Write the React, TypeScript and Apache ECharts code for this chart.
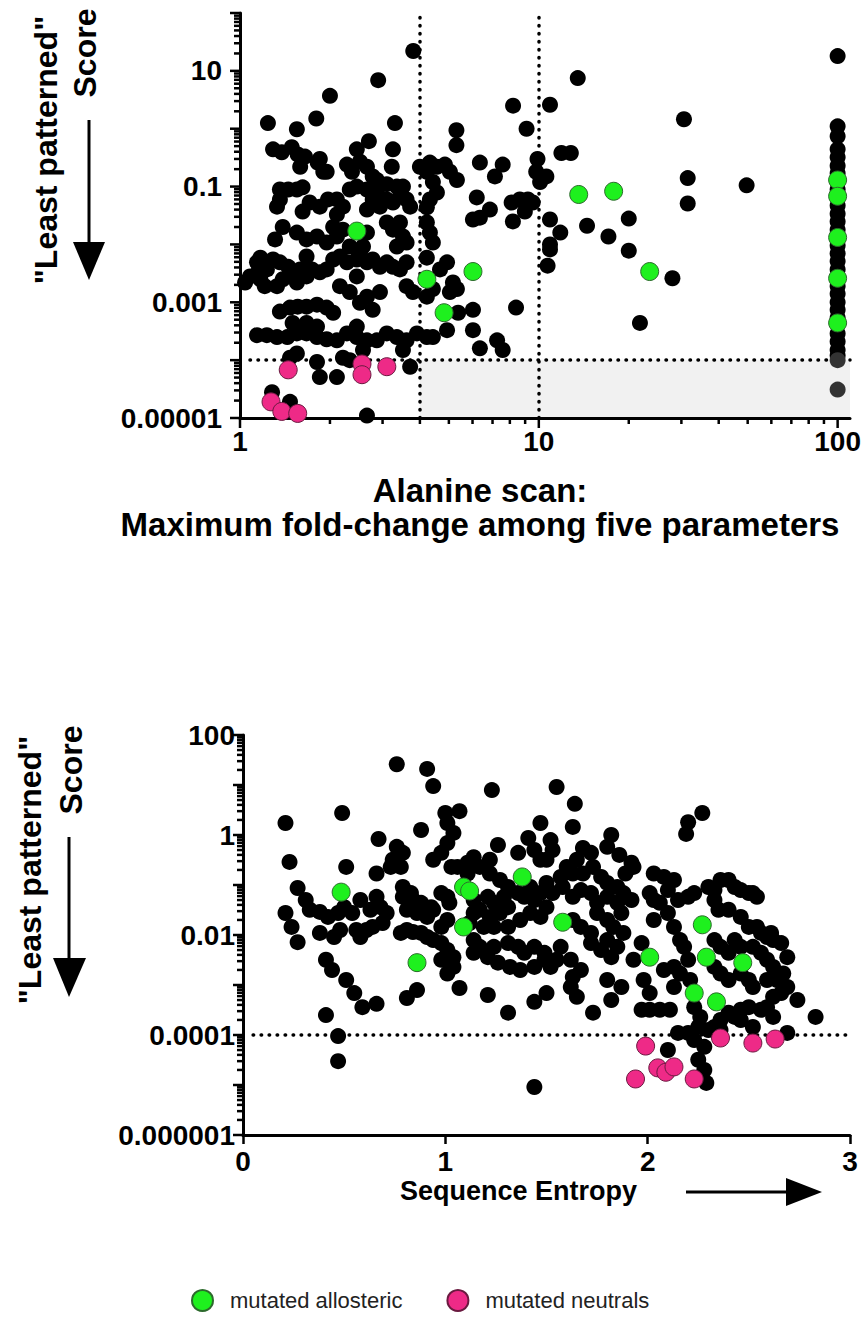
import React, { useEffect, useRef } from "react";
import * as echarts from "echarts";

const FONT = '"Liberation Sans", Arial, sans-serif';

// ---------------- Top panel: [Alanine scan max fold-change, "least patterned" score]
const topOther: number[][] = [
  [3.8, 22], [2.9, 6.9], [2.0, 3.7], [1.8, 1.5], [1.24, 1.25], [1.55, 0.98], [3.3, 1.25], [5.3, 0.94], [5.3, 0.52],
  [8.2, 2.5], [9.1, 1.0], [10.9, 2.6], [2.7, 0.61], [13.5, 7.5], [30.6, 1.46], [11.9, 0.38], [12.8, 0.38], [9.9, 0.3],
  [9.8, 0.18], [10.6, 0.15], [10.1, 0.12], [31.5, 0.14], [49.6, 0.105], [31.5, 0.051],
  [1.29, 0.44], [1.38, 0.39], [1.49, 0.48], [1.56, 0.36], [1.65, 0.33], [1.59, 0.22], [1.85, 0.3], [1.9, 0.18],
  [2.28, 0.24], [2.37, 0.18], [2.46, 0.44], [2.52, 0.27], [2.66, 0.22], [2.78, 0.15], [2.87, 0.13], [3.25, 0.44],
  [3.22, 0.22], [4.0, 0.22], [4.32, 0.26], [4.56, 0.22], [4.85, 0.24], [5.04, 0.18], [5.32, 0.13], [6.35, 0.26],
  [7.13, 0.15], [7.57, 0.24], [4.22, 0.18], [4.42, 0.12], [1.82, 0.26], [1.95, 0.18],
  [1.36, 0.089], [1.45, 0.089], [1.55, 0.089], [1.62, 0.097], [1.36, 0.06], [1.33, 0.045], [1.71, 0.053], [1.85, 0.045],
  [1.97, 0.06], [2.11, 0.06], [2.21, 0.045], [2.11, 0.033], [1.62, 0.037], [2.33, 0.089], [2.46, 0.1], [2.66, 0.089],
  [2.87, 0.083], [3.1, 0.11], [3.35, 0.1], [3.51, 0.1], [2.78, 0.06], [2.66, 0.04], [2.94, 0.045], [3.1, 0.06],
  [3.25, 0.053], [3.43, 0.068], [3.61, 0.06], [3.71, 0.045], [4.32, 0.06], [4.22, 0.044], [4.56, 0.079], [6.2, 0.065],
  [6.86, 0.04], [6.35, 0.029], [6.02, 0.027], [8.11, 0.053], [8.64, 0.06], [9.19, 0.06], [9.54, 0.053], [8.98, 0.037],
  [8.19, 0.025], [10.9, 0.027], [11.8, 0.016], [10.9, 0.01], [10.9, 0.0082], [10.7, 0.0043], [14.5, 0.021],
  [17.1, 0.0137], [20, 0.028], [20, 0.0078], [28, 0.0026], [21.8, 0.00044], [8.39, 0.00081],
  [3.1, 0.024], [3.25, 0.018], [3.43, 0.024], [3.51, 0.0137], [3.61, 0.0108], [3.35, 0.0092], [1.55, 0.016],
  [1.67, 0.0122], [1.81, 0.0137], [1.95, 0.0108], [2.11, 0.0137], [2.05, 0.02], [2.21, 0.018], [2.66, 0.016],
  [2.58, 0.0092], [2.33, 0.0092], [4.22, 0.024], [4.32, 0.016], [4.42, 0.0108], [1.39, 0.02], [1.31, 0.0122],
  [1.17, 0.0059], [1.29, 0.0055], [1.14, 0.0049], [1.08, 0.0028], [1.15, 0.0033], [1.23, 0.0037], [1.21, 0.0019],
  [1.36, 0.0049], [1.45, 0.0041], [1.5, 0.0033], [1.59, 0.0037], [1.67, 0.0028], [1.74, 0.0037], [1.85, 0.0033],
  [1.95, 0.0037], [2.05, 0.0055], [2.16, 0.0062], [2.28, 0.0049], [2.46, 0.0055], [2.66, 0.0049], [2.78, 0.0055],
  [2.94, 0.0041], [3.1, 0.0049], [3.25, 0.0041], [3.43, 0.0037], [3.61, 0.0049], [2.52, 0.0072], [1.67, 0.0062],
  [4.22, 0.0059], [4.67, 0.0037], [4.93, 0.0049], [5.16, 0.0022], [5.32, 0.0017], [5.04, 0.0015],
  [1.17, 0.0025], [1.33, 0.0019],
  [2.16, 0.0019], [2.33, 0.0015], [2.46, 0.0028], [2.66, 0.00125], [2.94, 0.0015], [3.61, 0.0019], [3.79, 0.0015],
  [4.22, 0.00125], [4.42, 0.0017], [1.39, 0.0025], [1.55, 0.0022], [1.04, 0.0022],
  [2.52, 0.00098], [2.78, 0.00074], [1.36, 0.00069], [1.47, 0.00081], [1.56, 0.00084], [1.67, 0.00084],
  [1.81, 0.00091], [1.95, 0.00081], [2.05, 0.00066], [1.5, 0.00044], [1.67, 0.00044], [1.81, 0.00038],
  [6.02, 0.00074], [5.37, 0.00066],
  [1.14, 0.00027], [1.23, 0.00027], [1.33, 0.00025], [1.44, 0.00025], [1.55, 0.00029], [1.67, 0.00029],
  [1.81, 0.00025], [1.95, 0.00023], [2.11, 0.00022], [2.28, 0.00029], [2.46, 0.00025], [2.66, 0.00022],
  [2.87, 0.00022], [3.1, 0.00029], [3.35, 0.00025], [3.61, 0.00022], [3.91, 0.00029], [4.22, 0.00025],
  [4.42, 0.00025], [4.93, 0.00033], [6.02, 0.00033], [6.35, 0.00016], [7.25, 0.00022], [7.57, 0.00015],
  [2.46, 0.00038], [1.55, 0.00013], [1.81, 0.000093], [1.85, 0.000051], [2.11, 0.000051], [2.21, 0.00011],
  [2.33, 0.0001], [2.58, 0.00015], [3.51, 0.00015], [3.71, 0.000077], [1.28, 0.000028], [1.47, 0.000019],
  [2.66, 0.000011], [1.47, 0.00011],
];
const topOtherAt100: number[][] = [
  [100, 18], [100, 1.1], [100, 0.74], [100, 0.44], [100, 0.32], [100, 0.23], [100, 0.17], [100, 0.12], [100, 0.089],
  [100, 0.065], [100, 0.047], [100, 0.034], [100, 0.025], [100, 0.018], [100, 0.0096], [100, 0.007], [100, 0.0051],
  [100, 0.0037], [100, 0.0019], [100, 0.0014], [100, 0.001], [100, 0.00074], [100, 0.00054], [100, 0.00029],
  [100, 0.00021], [100, 0.00015], [100, 0.00012],
];
const topOtherShaded: number[][] = [[100, 0.0001], [100, 0.000031]];
const topAllosteric: number[][] = [
  [2.46, 0.017], [4.22, 0.0025], [6.02, 0.0034], [4.82, 0.00066], [13.6, 0.073], [17.8, 0.083], [23.5, 0.0034],
  [100, 0.13], [100, 0.068], [100, 0.0132], [100, 0.0026], [100, 0.00044],
];
const topNeutrals: number[][] = [
  [1.45, 0.000068], [2.56, 0.000086], [2.56, 0.000056], [3.1, 0.000077], [1.27, 0.000019], [1.38, 0.000013],
  [1.56, 0.000012],
];

// ---------------- Bottom panel: [sequence entropy, "least patterned" score]
const bottomOther: number[][] = [
  [0.76, 26], [0.91, 21], [0.94, 9.5], [1.23, 7.9], [1.55, 9.1], [0.49, 2.75], [0.21, 1.74], [0.88, 1.26], [1.0, 2.75],
  [1.07, 3.0], [1.01, 1.74], [1.04, 1.1], [1.01, 0.69], [0.98, 0.44], [0.67, 0.83], [1.47, 1.74], [0.23, 0.29],
  [0.51, 0.23], [0.76, 0.58], [0.79, 0.44], [0.74, 0.32], [0.73, 0.23], [0.78, 0.23], [0.66, 0.17], [0.94, 0.32],
  [1.26, 0.63], [1.22, 0.32], [1.41, 0.87], [1.44, 0.5], [1.36, 0.44], [1.47, 0.32], [1.06, 0.23], [1.11, 0.28],
  [1.14, 0.36],
  [0.27, 0.087], [0.31, 0.05], [0.33, 0.032], [0.38, 0.029], [0.42, 0.023], [0.47, 0.0275], [0.5, 0.036],
  [0.54, 0.0275], [0.58, 0.05], [0.61, 0.0126], [0.58, 0.0091], [0.56, 0.0126], [0.48, 0.0126], [0.45, 0.0091],
  [0.38, 0.011], [0.21, 0.0275], [0.24, 0.0145], [0.27, 0.0072], [0.66, 0.058], [0.68, 0.036], [0.71, 0.0275],
  [0.69, 0.0174], [0.64, 0.0145], [0.63, 0.032],
  [0.79, 0.091], [0.83, 0.069], [0.79, 0.058], [0.84, 0.05], [0.88, 0.044], [0.81, 0.032], [0.86, 0.0275],
  [0.91, 0.023], [0.94, 0.032], [0.98, 0.069], [0.78, 0.011], [0.81, 0.0126], [0.84, 0.0115], [0.88, 0.011],
  [0.91, 0.0091], [0.94, 0.0079], [0.98, 0.0069], [1.01, 0.005], [0.98, 0.0032], [1.04, 0.0023], [1.01, 0.0017],
  [1.04, 0.0036], [1.01, 0.058], [0.93, 0.036], [0.98, 0.0145], [1.01, 0.02], [1.02, 0.044],
  [1.14, 0.05], [1.21, 0.058], [1.24, 0.044], [1.29, 0.058], [1.31, 0.036], [1.27, 0.0275], [1.22, 0.023],
  [1.17, 0.032], [1.14, 0.0275], [1.12, 0.0174], [1.19, 0.0145], [1.24, 0.0145], [1.31, 0.0145], [1.37, 0.02],
  [1.42, 0.0275], [1.47, 0.023], [1.5, 0.036], [1.44, 0.05], [1.39, 0.058],
  [1.14, 0.0079], [1.17, 0.0058], [1.24, 0.0058], [1.31, 0.0069], [1.36, 0.0058], [1.39, 0.0044], [1.44, 0.0058],
  [1.49, 0.0044], [1.14, 0.0044], [1.21, 0.0036], [1.26, 0.0028], [1.32, 0.0023], [1.37, 0.002], [1.44, 0.0023],
  [1.49, 0.0032], [1.52, 0.0023], [1.07, 0.00087], [1.21, 0.00063], [1.31, 0.00028], [1.44, 0.00046], [1.5, 0.00069],
  [0.41, 0.0032], [0.44, 0.002], [0.51, 0.00126], [0.55, 0.00069], [0.59, 0.00036], [0.66, 0.00042], [0.81, 0.00055],
  [0.86, 0.00079], [0.41, 0.00025], [0.47, 0.000095], [0.47, 0.00003], [1.44, 0.0000091],
  [1.03, 0.23], [1.11, 0.17], [1.17, 0.23], [1.22, 0.17], [1.27, 0.126], [1.31, 0.091], [1.36, 0.069], [1.42, 0.091],
  [1.47, 0.069], [1.5, 0.11], [1.52, 0.79],
  [1.64, 4.2], [1.63, 1.45], [2.27, 2.75], [2.2, 1.8], [2.19, 1.05], [1.82, 1.0], [1.8, 0.58], [1.86, 0.4], [1.92, 0.28],
  [1.93, 0.23], [1.89, 0.17], [1.68, 0.55], [1.72, 0.44], [1.65, 0.32], [1.6, 0.23], [1.53, 0.5], [1.57, 0.145],
  [1.5, 0.32], [1.63, 0.17], [1.68, 0.17], [1.73, 0.23], [1.77, 0.145], [1.8, 0.11], [1.85, 0.091], [1.88, 0.069],
  [1.92, 0.05], [1.85, 0.044], [1.8, 0.058], [1.75, 0.044], [1.72, 0.069], [1.67, 0.079], [1.63, 0.058],
  [1.58, 0.091], [1.53, 0.069],
  [1.75, 0.0275], [1.8, 0.02], [1.83, 0.0145], [1.87, 0.0275], [1.88, 0.011], [1.8, 0.0079], [1.77, 0.005],
  [1.82, 0.0036], [1.85, 0.0058], [1.72, 0.0069], [1.67, 0.0145], [1.63, 0.02], [1.72, 0.011], [1.57, 0.0058],
  [1.55, 0.0032], [1.62, 0.0032], [1.67, 0.002], [1.63, 0.00145], [1.62, 0.00091], [1.65, 0.00058], [1.8, 0.00126],
  [1.87, 0.00091], [1.82, 0.0005], [1.73, 0.00028],
  [2.03, 0.17], [2.08, 0.145], [2.13, 0.126], [2.1, 0.079], [2.01, 0.069], [2.03, 0.05], [2.06, 0.044], [2.15, 0.05],
  [2.2, 0.058], [2.23, 0.069], [2.03, 0.02], [2.13, 0.0145], [2.16, 0.0079], [2.1, 0.0275], [1.97, 0.0069],
  [1.93, 0.0032], [1.98, 0.00126], [2.01, 0.00069], [1.97, 0.00032], [2.01, 0.00032], [2.06, 0.00032],
  [2.11, 0.00032], [2.08, 0.002], [2.13, 0.0023], [2.16, 0.0017], [2.2, 0.0032], [2.18, 0.0058], [2.21, 0.00126],
  [2.13, 0.00091], [2.23, 0.00036], [2.26, 0.00023], [2.25, 0.000145], [2.3, 0.000126], [2.23, 0.000079],
  [2.28, 0.000058], [2.25, 0.000032], [2.28, 0.00002], [2.29, 0.000011], [2.2, 0.00011], [2.15, 0.00011],
  [2.1, 0.00005],
  [2.3, 0.091], [2.33, 0.079], [2.36, 0.126], [2.4, 0.126], [2.43, 0.091], [2.46, 0.079], [2.5, 0.069], [2.52, 0.069],
  [2.54, 0.058], [2.33, 0.05], [2.35, 0.032], [2.4, 0.032], [2.46, 0.023], [2.5, 0.0145], [2.54, 0.0145],
  [2.56, 0.011], [2.59, 0.0091], [2.62, 0.0079], [2.66, 0.0069], [2.33, 0.0079], [2.36, 0.0058], [2.4, 0.0044],
  [2.43, 0.0079], [2.46, 0.0058], [2.52, 0.0058], [2.56, 0.0044], [2.59, 0.0032], [2.62, 0.0023], [2.33, 0.0023],
  [2.36, 0.0017], [2.4, 0.00126], [2.46, 0.0017], [2.5, 0.00126], [2.52, 0.00091], [2.59, 0.00126], [2.64, 0.00126],
  [2.67, 0.0017], [2.69, 0.00091], [2.66, 0.00069], [2.62, 0.00058], [2.59, 0.00036], [2.56, 0.00032],
  [2.5, 0.00036], [2.46, 0.00032], [2.43, 0.00023], [2.4, 0.00028], [2.36, 0.0002], [2.33, 0.000145],
  [2.36, 0.000126], [2.46, 0.0002], [2.52, 0.000145], [2.62, 0.00023], [2.69, 0.00011], [2.74, 0.0005],
  [2.83, 0.00023], [2.61, 0.011], [2.69, 0.0036],
];
const bottomAllosteric: number[][] = [
  [0.485, 0.072], [1.09, 0.091], [1.12, 0.076], [1.38, 0.145], [1.09, 0.0145], [0.86, 0.0028], [1.58, 0.018],
  [2.27, 0.016], [2.01, 0.0036], [2.29, 0.0036], [2.47, 0.0028], [2.23, 0.00069], [2.34, 0.00046],
];
const bottomNeutrals: number[][] = [
  [1.99, 0.00006], [2.36, 0.000087], [2.52, 0.000069], [2.63, 0.000083], [1.94, 0.0000132], [2.05, 0.000022],
  [2.09, 0.000018], [2.13, 0.000023], [2.23, 0.0000132],
];

// ---------------- axes / reference values
const topXRange = [1, 110];
const topYRange = [0.00001, 100];
const bottomXRange = [0, 3];
const bottomYRange = [0.000001, 100];
const topXLabels: Record<number, string> = { 0: "1", 1: "10", 2: "100" };
const topYLabels: Record<number, string> = { 1: "10", [-1]: "0.1", [-3]: "0.001", [-5]: "0.00001" };
const bottomYLabels: Record<number, string> = { 2: "100", 0: "1", [-2]: "0.01", [-4]: "0.0001", [-6]: "0.000001" };
const topRefX = [4, 10];
const refY = 0.0001;
const minorMultipliers = [2, 3, 4, 5, 6, 7, 8, 9];
const topXDecades = [1, 10, 100];
const topYDecades = [0.00001, 0.0001, 0.001, 0.01, 0.1, 1, 10, 100];
const bottomYDecades = [0.000001, 0.00001, 0.0001, 0.001, 0.01, 0.1, 1, 10, 100];

const logLabel = (map: Record<number, string>) => (v: number) => {
  const e = Math.log10(v);
  const r = Math.round(e);
  if (Math.abs(e - r) > 1e-6) return "";
  return map[r] ?? "";
};

// tick items: [x, y, kind(0 = x tick, 1 = y tick), length]
function buildTicks(xDecades: number[] | null, yDecades: number[], xMin: number, yMin: number) {
  const out: number[][] = [];
  if (xDecades) {
    xDecades.forEach((d, i) => {
      out.push([d, yMin, 0, 9]);
      if (i < xDecades.length - 1) minorMultipliers.forEach((m) => out.push([d * m, yMin, 0, 5]));
    });
  }
  yDecades.forEach((d, i) => {
    out.push([xMin, d, 1, 9]);
    if (i < yDecades.length - 1) minorMultipliers.forEach((m) => out.push([xMin, d * m, 1, 5]));
  });
  return out;
}

const tickRender = (_p: any, api: any) => {
  const p = api.coord([api.value(0), api.value(1)]);
  const kind = api.value(2);
  const len = api.value(3);
  const shape =
    kind === 0
      ? { x1: p[0], y1: p[1], x2: p[0], y2: p[1] + len + 1 }
      : { x1: p[0] - len - 1, y1: p[1], x2: p[0], y2: p[1] };
  return { type: "line", shape, style: { stroke: "#000", lineWidth: 2.5 } };
};

const GREEN = { color: "#1ef01e", borderColor: "#2d6a2d", borderWidth: 1, opacity: 1 };
const PINK = { color: "#ee2a87", borderColor: "#6a1a40", borderWidth: 1, opacity: 1 };
const BLACK = { color: "#000", opacity: 1 };

const tickLabel = { fontFamily: FONT, fontWeight: "bold" as const, fontSize: 28, color: "#000" };
const axisLine = { show: true, onZero: false, lineStyle: { color: "#000", width: 3 } };
const dotted = { color: "#000", width: 3.5, type: [0.5, 7.5], cap: "round", opacity: 1 };

const textStyle = (font: string, align = "center") => ({
  font, fill: "#000", align, verticalAlign: "middle", textAlign: align, textVerticalAlign: "middle",
});

export default function App() {
  const ref = useRef<HTMLDivElement>(null);
  useEffect(() => {
    if (!ref.current) return;
    const chart = echarts.init(ref.current, undefined, { renderer: "svg" });
    const option: any = {
      animation: false,
      backgroundColor: "#fff",
      grid: [
        { left: 240, top: 13, width: 610, height: 405 },
        { left: 243, top: 735, width: 607, height: 400 },
      ],
      xAxis: [
        {
          gridIndex: 0, type: "log", logBase: 10, min: topXRange[0], max: topXRange[1],
          axisLine, axisTick: { show: false }, splitLine: { show: false },
          axisLabel: { ...tickLabel, margin: 9, formatter: logLabel(topXLabels) },
        },
        {
          gridIndex: 1, type: "value", min: bottomXRange[0], max: bottomXRange[1], interval: 1,
          axisLine, splitLine: { show: false },
          axisTick: { show: true, length: 9, lineStyle: { color: "#000", width: 2.5 } },
          axisLabel: { ...tickLabel, margin: 12 },
        },
      ],
      yAxis: [
        {
          gridIndex: 0, type: "log", logBase: 10, min: topYRange[0], max: topYRange[1],
          axisLine, axisTick: { show: false }, splitLine: { show: false },
          axisLabel: { ...tickLabel, margin: 18, formatter: logLabel(topYLabels) },
        },
        {
          gridIndex: 1, type: "log", logBase: 10, min: bottomYRange[0], max: bottomYRange[1],
          axisLine, axisTick: { show: false }, splitLine: { show: false },
          axisLabel: { ...tickLabel, margin: 8, formatter: logLabel(bottomYLabels) },
        },
      ],
      legend: {
        left: 186, top: 1284, itemWidth: 21, itemHeight: 21, itemGap: 44, icon: "circle",
        textStyle: { fontFamily: FONT, fontSize: 22, color: "#222", padding: [0, 0, 0, 12] },
        data: ["mutated allosteric", "mutated neutrals"],
      },
      series: [
        {
          type: "custom", name: "ticks-top", xAxisIndex: 0, yAxisIndex: 0, clip: false, silent: true, z: 4,
          data: buildTicks(topXDecades, topYDecades, topXRange[0], topYRange[0]), renderItem: tickRender,
        },
        {
          type: "custom", name: "ticks-bottom", xAxisIndex: 1, yAxisIndex: 1, clip: false, silent: true, z: 4,
          data: buildTicks(null, bottomYDecades, bottomXRange[0], bottomYRange[0]), renderItem: tickRender,
        },
        {
          type: "scatter", name: "other", xAxisIndex: 0, yAxisIndex: 0, symbolSize: 16, itemStyle: BLACK, silent: true,
          data: [
            ...topOther, ...topOtherAt100,
            ...topOtherShaded.map((v) => ({ value: v, itemStyle: { color: "#333" } })),
          ],
          markArea: {
            silent: true, z: 0, itemStyle: { color: "#f1f1f1", opacity: 1 },
            data: [[{ xAxis: topRefX[0], yAxis: topYRange[0] }, { xAxis: topXRange[1], yAxis: refY }]],
          },
          markLine: {
            silent: true, z: 1, symbol: "none", label: { show: false }, lineStyle: dotted,
            data: [
              [{ coord: [topRefX[0], topYRange[0]] }, { coord: [topRefX[0], topYRange[1]] }],
              [{ coord: [topRefX[1], topYRange[0]] }, { coord: [topRefX[1], topYRange[1]] }],
              [{ coord: [1.08, refY] }, { coord: [topXRange[1], refY] }],
            ],
          },
        },
        {
          type: "scatter", name: "mutated allosteric", xAxisIndex: 0, yAxisIndex: 0, symbolSize: 18,
          itemStyle: GREEN, data: topAllosteric, silent: true,
        },
        {
          type: "scatter", name: "mutated neutrals", xAxisIndex: 0, yAxisIndex: 0, symbolSize: 18,
          itemStyle: PINK, data: topNeutrals, silent: true,
        },
        {
          type: "scatter", name: "other", xAxisIndex: 1, yAxisIndex: 1, symbolSize: 16, itemStyle: BLACK,
          data: bottomOther, silent: true,
          markLine: {
            silent: true, z: 1, symbol: "none", label: { show: false }, lineStyle: dotted,
            data: [[{ coord: [0.05, refY] }, { coord: [bottomXRange[1], refY] }]],
          },
        },
        {
          type: "scatter", name: "mutated allosteric", xAxisIndex: 1, yAxisIndex: 1, symbolSize: 18,
          itemStyle: GREEN, data: bottomAllosteric, silent: true,
        },
        {
          type: "scatter", name: "mutated neutrals", xAxisIndex: 1, yAxisIndex: 1, symbolSize: 18,
          itemStyle: PINK, data: bottomNeutrals, silent: true,
        },
      ],
      graphic: [
        { type: "text", x: 46, y: 150, rotation: Math.PI / 2, style: { text: '"Least patterned"', ...textStyle(`bold 32px ${FONT}`) } },
        { type: "text", x: 85, y: 53, rotation: Math.PI / 2, style: { text: "Score", ...textStyle(`bold 32px ${FONT}`) } },
        { type: "line", shape: { x1: 89, y1: 120, x2: 89, y2: 246 }, style: { stroke: "#000", lineWidth: 3 } },
        { type: "polygon", shape: { points: [[73, 242], [105, 242], [89, 280]] }, style: { fill: "#000" } },
        {
          type: "text", x: 480, y: 507,
          style: {
            text: "Alanine scan:\nMaximum fold-change among five parameters",
            lineHeight: 34, ...textStyle(`bold 33px ${FONT}`),
          },
        },
        { type: "text", x: 30, y: 870, rotation: Math.PI / 2, style: { text: '"Least patterned"', ...textStyle(`bold 32px ${FONT}`) } },
        { type: "text", x: 71, y: 770, rotation: Math.PI / 2, style: { text: "Score", ...textStyle(`bold 32px ${FONT}`) } },
        { type: "line", shape: { x1: 69, y1: 837, x2: 69, y2: 962 }, style: { stroke: "#000", lineWidth: 3 } },
        { type: "polygon", shape: { points: [[53, 958], [86, 958], [69, 997]] }, style: { fill: "#000" } },
        { type: "text", x: 400, y: 1191, style: { text: "Sequence Entropy", ...textStyle(`bold 27px ${FONT}`, "left") } },
        { type: "line", shape: { x1: 686, y1: 1192, x2: 792, y2: 1192 }, style: { stroke: "#000", lineWidth: 3 } },
        { type: "polygon", shape: { points: [[786, 1178], [786, 1206], [822, 1192]] }, style: { fill: "#000" } },
      ],
    };
    chart.setOption(option);
    return () => chart.dispose();
  }, []);
  return <div ref={ref} style={{ position: "absolute", left: 0, top: 0, width: 866, height: 1319 }} />;
}
